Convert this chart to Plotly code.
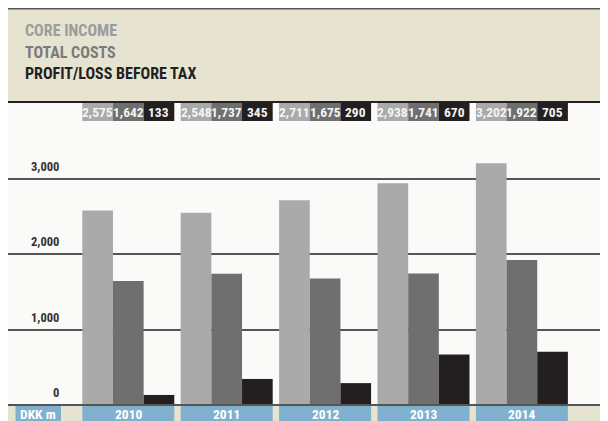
import plotly.graph_objects as go

years = ["2010", "2011", "2012", "2013", "2014"]
core_income = [2575, 2548, 2711, 2938, 3202]
total_costs = [1642, 1737, 1675, 1741, 1922]
profit_before_tax = [133, 345, 290, 670, 705]
series_names = ["CORE INCOME", "TOTAL COSTS", "PROFIT/LOSS BEFORE TAX"]
y_ticks = [0, 1000, 2000, 3000]
unit_label = "DKK m"

colors = ["#aaaaaa", "#6e6f6e", "#231f20"]
header_colors = ["#9c9c9c", "#7a7a7a", "#231f20"]
blue = "#7fb1cf"
beige = "#e6e4d1"
FONT = "Roboto Condensed, Roboto, sans-serif"

OFF = 8  # page body margin
W, H = 600, 413
ML, MR, MT, MB = 0, 0, 94, 16
PW, PH = W - ML - MR, H - MT - MB
PLOT_TOP, PLOT_BOT = OFF + MT, OFF + H - MB  # in page pixels

def py(p):  # page pixel y -> paper y
    return (PLOT_BOT - p) / PH

def px(p):  # page pixel x -> paper x
    return (p - OFF - ML) / PW

pitch = 98.4
first_center = 128.3
r0 = -(first_center - OFF - ML) / pitch
r1 = r0 + PW / pitch
group_w = 92 / pitch
bar_w = group_w / 3

series = [core_income, total_costs, profit_before_tax]

fig = go.Figure()
for name, vals, c in zip(series_names, series, colors):
    fig.add_trace(go.Bar(x=years, y=vals, name=name, marker=dict(color=c, line=dict(width=0)),
                         hoverinfo="x+y+name"))

shapes = []
annotations = []

# header band
shapes.append(dict(type="rect", xref="paper", yref="paper", x0=0, x1=1, y0=1, y1=py(8),
                   fillcolor=beige, line=dict(width=0), layer="below"))
shapes.append(dict(type="line", xref="paper", yref="paper", x0=0, x1=1, y0=py(8.6), y1=py(8.6),
                   line=dict(color="#555555", width=2)))
shapes.append(dict(type="line", xref="paper", yref="paper", x0=0, x1=1, y0=py(102), y1=py(102),
                   line=dict(color="#222222", width=2)))
for i, (name, c) in enumerate(zip(series_names, header_colors)):
    annotations.append(dict(text="<b>%s</b>" % name, xref="paper", yref="paper", x=px(23),
                            y=py(31 + 21 * i), xanchor="left", yanchor="middle", showarrow=False,
                            font=dict(family=FONT, size=16, color=c)))

# bottom band
shapes.append(dict(type="rect", xref="paper", yref="paper", x0=0, x1=1, y0=py(421), y1=py(405),
                   fillcolor=beige, line=dict(width=0)))
shapes.append(dict(type="rect", xref="paper", yref="paper", x0=px(15.5), x1=px(61), y0=py(421),
                   y1=py(406), fillcolor=blue, line=dict(width=0)))
annotations.append(dict(text="<b>%s</b>" % unit_label, xref="paper", yref="paper", x=px(38.2),
                        y=py(414), xanchor="center", yanchor="middle", showarrow=False,
                        font=dict(family=FONT, size=13.5, color="white")))
for i, yr in enumerate(years):
    shapes.append(dict(type="rect", xref="x", yref="paper", x0=i - group_w / 2, x1=i + group_w / 2,
                       y0=py(421), y1=py(406), fillcolor=blue, line=dict(width=0)))
    annotations.append(dict(text="<b>%s</b>" % yr, xref="x", yref="paper", x=i, y=py(414),
                            xanchor="center", yanchor="middle", showarrow=False,
                            font=dict(family=FONT, size=13.5, color="white")))
shapes.append(dict(type="line", xref="paper", yref="paper", x0=0, x1=1, y0=py(405), y1=py(405),
                   line=dict(color="#555555", width=2)))

# value labels on top
for i in range(len(years)):
    for k, vals in enumerate(series):
        xc = i + (k - 1) * bar_w
        shapes.append(dict(type="rect", xref="x", yref="paper", x0=xc - bar_w / 2, x1=xc + bar_w / 2,
                           y0=py(121), y1=py(103), fillcolor=colors[k], line=dict(width=0)))
        annotations.append(dict(text="<b>{:,}</b>".format(vals[i]), xref="x", yref="paper", x=xc,
                                y=py(112), xanchor="center", yanchor="middle", showarrow=False,
                                font=dict(family=FONT, size=13.5, color="#f4f4f4")))

# y tick labels (above gridlines)
for t in y_ticks:
    annotations.append(dict(text="<b>{:,}</b>".format(t), xref="paper", yref="y", x=px(61), y=t,
                            xanchor="right", yanchor="bottom", yshift=3, showarrow=False,
                            font=dict(family=FONT, size=12.5, color="#333333")))

fig.update_layout(
    width=W, height=H,
    margin=dict(l=ML, r=MR, t=MT, b=MB, pad=0),
    paper_bgcolor="#ffffff", plot_bgcolor="#fafaf8",
    barmode="group", bargap=1 - group_w, bargroupgap=0,
    showlegend=False,
    shapes=shapes, annotations=annotations,
    xaxis=dict(type="category", range=[r0, r1], showticklabels=False, showgrid=False,
               zeroline=False, showline=False, fixedrange=True),
    yaxis=dict(range=[0, PH / 75.5 * 1000], tickvals=y_ticks[1:], showticklabels=False,
               showgrid=True, gridcolor="#555555", gridwidth=1.5, zeroline=False,
               showline=False, fixedrange=True),
    font=dict(family=FONT),
)

fig.write_html("out.html", config={"displayModeBar": False})
